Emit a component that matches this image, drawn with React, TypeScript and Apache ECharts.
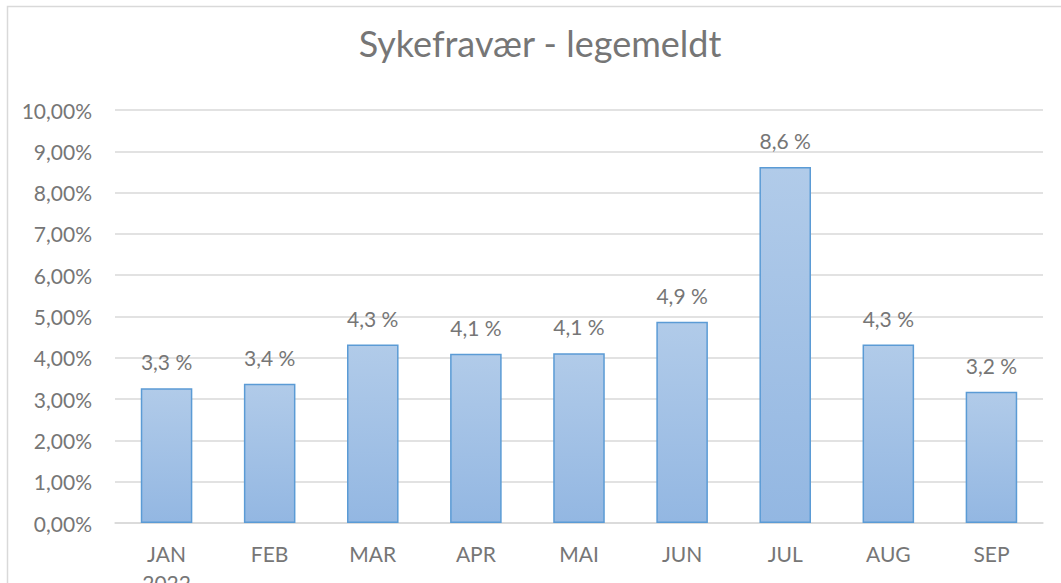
import React, { useEffect, useRef } from "react";
import * as echarts from "echarts";

const categories = ["JAN\n2022", "FEB", "MAR", "APR", "MAI", "JUN", "JUL", "AUG", "SEP"];
const values = [3.26, 3.37, 4.32, 4.1, 4.11, 4.87, 8.62, 4.32, 3.18];
const yTicks = { min: 0, max: 10, interval: 1 };
const title = "Sykefravær - legemeldt";

const FONT = "Lato, 'Open Sans', sans-serif";
const GRAY = "#767676";

export default function App() {
  const ref = useRef<HTMLDivElement>(null);
  useEffect(() => {
    if (!ref.current) return;
    const chart = echarts.init(ref.current, undefined, { renderer: "svg" });
    chart.setOption({
      animation: false,
      backgroundColor: "#ffffff",
      graphic: [
        {
          type: "rect",
          shape: { x: 7.5, y: 6.5, width: 1100, height: 700 },
          style: { fill: "none", stroke: "#d9d9d9", lineWidth: 1.5 },
          silent: true,
          z: -1,
        },
        {
          type: "text",
          x: 540,
          y: 43,
          style: {
            text: title,
            fill: GRAY,
            font: `normal 36px ${FONT}`,
            textAlign: "center",
            textVerticalAlign: "middle",
          },
          silent: true,
        },
      ],
      grid: { left: 115, right: 18, top: 110, bottom: 60, containLabel: false, outerBoundsMode: "none" },
      xAxis: {
        type: "category",
        data: categories,
        axisLine: { show: true, lineStyle: { color: "#d9d9d9", width: 1.5 } },
        axisTick: { show: false },
        axisLabel: {
          color: GRAY,
          fontFamily: FONT,
          fontSize: 21,
          margin: 16,
          lineHeight: 29,
          interval: 0,
        },
      },
      yAxis: {
        type: "value",
        min: yTicks.min,
        max: yTicks.max,
        interval: yTicks.interval,
        axisLine: { show: false },
        axisTick: { show: false },
        splitLine: { lineStyle: { color: "#d9d9d9", width: 1.5 } },
        axisLabel: {
          color: GRAY,
          fontFamily: FONT,
          fontSize: 21,
          margin: 23,
          formatter: (v: number) => v.toFixed(2).replace(".", ",") + "%",
        },
      },
      series: [
        {
          type: "bar",
          data: values,
          barWidth: "50%",
          itemStyle: {
            color: new echarts.graphic.LinearGradient(0, 0, 0, 1, [
              { offset: 0, color: "#b1cbe9" },
              { offset: 1, color: "#93b7e2" },
            ]),
            borderColor: "#5b9bd5",
            borderWidth: 1.5,
          },
          label: {
            show: true,
            position: "top",
            distance: 16,
            color: GRAY,
            fontFamily: FONT,
            fontSize: 21,
            formatter: (p: any) => (p.value as number).toFixed(1).replace(".", ",") + " %",
          },
        },
      ],
    });
    return () => chart.dispose();
  }, []);
  return (
    <div
      ref={ref}
      style={{ position: "fixed", left: 0, top: 0, width: 1061, height: 583, background: "#fff" }}
    />
  );
}
